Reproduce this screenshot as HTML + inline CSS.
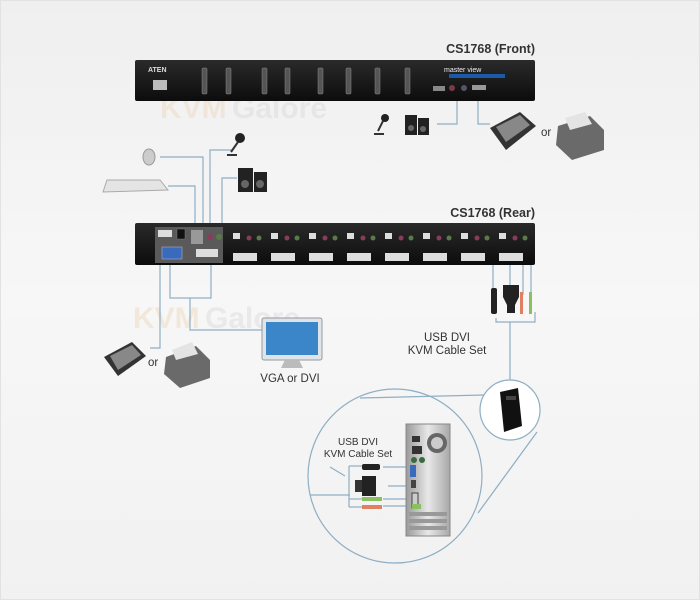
<!DOCTYPE html>
<html><head><meta charset="utf-8"><style>
html,body{margin:0;padding:0;background:#f3f3f3}
svg{display:block}
text{font-family:"Liberation Sans",sans-serif}
</style></head><body>
<svg width="700" height="600" viewBox="0 0 700 600" xmlns="http://www.w3.org/2000/svg">
<defs>
<linearGradient id="bg" x1="0" y1="0" x2="0" y2="1"><stop offset="0" stop-color="#efefef"/><stop offset="0.5" stop-color="#f7f7f7"/><stop offset="1" stop-color="#f1f1f1"/></linearGradient>
<linearGradient id="blk" x1="0" y1="0" x2="0" y2="1"><stop offset="0" stop-color="#2a2a2a"/><stop offset="1" stop-color="#0c0c0c"/></linearGradient>
<linearGradient id="tow" x1="0" y1="0" x2="1" y2="0"><stop offset="0" stop-color="#9a9a9a"/><stop offset="0.5" stop-color="#e8e8e8"/><stop offset="1" stop-color="#a8a8a8"/></linearGradient>
</defs>
<rect width="700" height="600" fill="url(#bg)"/>
<rect x="0.5" y="0.5" width="699" height="599" fill="none" stroke="#e2e2e2"/>

<!-- watermarks -->
<text x="160" y="118" font-size="30" font-weight="bold" fill="#eee2cf" opacity="0.7">KVM</text>
<text x="232" y="118" font-size="30" font-weight="bold" fill="#e2e2e2" opacity="0.7">Galore</text>
<text x="133" y="328" font-size="30" font-weight="bold" fill="#f0e3cf" opacity="0.7">KVM</text>
<text x="205" y="328" font-size="30" font-weight="bold" fill="#e4e4e4" opacity="0.7">Galore</text>

<!-- connector lines -->
<g stroke="#8eaec4" stroke-width="1.2" fill="none">
<path d="M457 100 V124 H437"/>
<path d="M478 100 V124 H490"/>
<path d="M160 157 H203 V223"/>
<path d="M168 186 H195 V223"/>
<path d="M232 150 H210 V223"/>
<path d="M237 178 H222 V223"/>
<path d="M170 265 V298 H211 V265"/>
<path d="M190 298 V330 H262"/>
<path d="M160 265 V348 H150"/>
<path d="M493 258 V300"/>
<path d="M510 260 V285"/>
<path d="M523 258 V295"/>
<path d="M531 258 V295"/>
<path d="M496 318 V322 H535 V312"/>
<path d="M510 322 V382"/>
<path d="M484 395 L360 398"/>
<path d="M537 432 L478 513"/>
<path d="M310 495 H350"/>
<path d="M349 466 V507"/>
<path d="M349 466 H362"/>
<path d="M349 499 H362"/>
<path d="M349 507 H362"/>
<path d="M383 467 H412"/>
<path d="M388 486 H412"/>
<path d="M383 499 H418"/>
<path d="M383 506 H421 V498"/>
<path d="M330 467 L345 476"/>
</g>
<circle cx="395" cy="476" r="87" fill="none" stroke="#8eaec4" stroke-width="1.2"/>
<circle cx="510" cy="410" r="30" fill="#ffffff" stroke="#8eaec4" stroke-width="1.2"/>

<!-- front unit -->
<text x="535" y="53" font-size="12.5" font-weight="bold" fill="#333" text-anchor="end">CS1768 (Front)</text>
<rect x="135" y="60" width="400" height="41" rx="2" fill="url(#blk)"/>
<text x="148" y="72" font-size="7" font-weight="bold" fill="#ddd">ATEN</text>
<rect x="153" y="80" width="14" height="10" fill="#bbb"/>
<g fill="#555" stroke="#888" stroke-width="0.5">
<rect x="202" y="68" width="5" height="26" rx="1"/><rect x="226" y="68" width="5" height="26" rx="1"/>
<rect x="262" y="68" width="5" height="26" rx="1"/><rect x="285" y="68" width="5" height="26" rx="1"/>
<rect x="318" y="68" width="5" height="26" rx="1"/><rect x="346" y="68" width="5" height="26" rx="1"/>
<rect x="375" y="68" width="5" height="26" rx="1"/><rect x="405" y="68" width="5" height="26" rx="1"/>
</g>
<text x="444" y="72" font-size="7" fill="#eee">master view</text>
<rect x="449" y="74" width="56" height="4" fill="#1a5aa8"/>
<rect x="433" y="86" width="12" height="5" fill="#888"/>
<circle cx="452" cy="88" r="3" fill="#7a3a4a"/><circle cx="464" cy="88" r="3" fill="#556"/>
<rect x="472" y="85" width="14" height="5" fill="#999"/>

<!-- rear unit -->
<text x="535" y="217" font-size="12.5" font-weight="bold" fill="#333" text-anchor="end">CS1768 (Rear)</text>
<rect x="135" y="223" width="400" height="42" rx="2" fill="url(#blk)"/>
<rect x="155" y="227" width="68" height="36" fill="#5a5a5a"/>
<rect x="158" y="230" width="14" height="7" fill="#ddd"/>
<rect x="177" y="229" width="8" height="10" fill="#111" stroke="#777" stroke-width="0.5"/>
<rect x="191" y="230" width="12" height="14" fill="#999"/>
<rect x="162" y="247" width="20" height="12" fill="#3a6abb" stroke="#aac" stroke-width="0.6"/>
<rect x="196" y="249" width="22" height="8" fill="#ddd"/>
<circle cx="210" cy="237" r="3" fill="#8a3a5a"/><circle cx="219" cy="237" r="3" fill="#5a7a4a"/>
<g fill="#ddd">
<rect x="233" y="253" width="24" height="8"/><rect x="271" y="253" width="24" height="8"/>
<rect x="309" y="253" width="24" height="8"/><rect x="347" y="253" width="24" height="8"/>
<rect x="385" y="253" width="24" height="8"/><rect x="423" y="253" width="24" height="8"/>
<rect x="461" y="253" width="24" height="8"/><rect x="499" y="253" width="24" height="8"/>
<rect x="233" y="233" width="7" height="6"/><rect x="271" y="233" width="7" height="6"/>
<rect x="309" y="233" width="7" height="6"/><rect x="347" y="233" width="7" height="6"/>
<rect x="385" y="233" width="7" height="6"/><rect x="423" y="233" width="7" height="6"/>
<rect x="461" y="233" width="7" height="6"/><rect x="499" y="233" width="7" height="6"/>
</g>
<g fill="#8a3a5a"><circle cx="249" cy="238" r="2.5"/><circle cx="287" cy="238" r="2.5"/><circle cx="325" cy="238" r="2.5"/><circle cx="363" cy="238" r="2.5"/><circle cx="401" cy="238" r="2.5"/><circle cx="439" cy="238" r="2.5"/><circle cx="477" cy="238" r="2.5"/><circle cx="515" cy="238" r="2.5"/></g>
<g fill="#5a7a4a"><circle cx="259" cy="238" r="2.5"/><circle cx="297" cy="238" r="2.5"/><circle cx="335" cy="238" r="2.5"/><circle cx="373" cy="238" r="2.5"/><circle cx="411" cy="238" r="2.5"/><circle cx="449" cy="238" r="2.5"/><circle cx="487" cy="238" r="2.5"/><circle cx="525" cy="238" r="2.5"/></g>

<!-- right cable set -->
<rect x="491" y="288" width="6" height="26" rx="2" fill="#222"/>
<path d="M503 285 h16 v12 l-4 8 v8 h-8 v-8 l-4 -8 z" fill="#222"/>
<rect x="520" y="292" width="3" height="22" fill="#e08060"/>
<rect x="529" y="292" width="3" height="22" fill="#8ac060"/>

<!-- labels -->
<text x="447" y="341" font-size="11.5" fill="#333" text-anchor="middle">USB DVI</text>
<text x="447" y="354" font-size="11.5" fill="#333" text-anchor="middle">KVM Cable Set</text>
<text x="290" y="382" font-size="11.5" fill="#333" text-anchor="middle">VGA or DVI</text>
<text x="541" y="136" font-size="11.5" fill="#333">or</text>
<text x="148" y="366" font-size="11.5" fill="#333">or</text>
<text x="358" y="445" font-size="10" fill="#333" text-anchor="middle">USB DVI</text>
<text x="358" y="457" font-size="10" fill="#333" text-anchor="middle">KVM Cable Set</text>

<!-- mouse -->
<ellipse cx="149" cy="157" rx="6" ry="8" fill="#ccc" stroke="#999"/>
<!-- keyboard -->
<path d="M107 180 L160 180 L168 190 L103 192 Z" fill="#e4e4e4" stroke="#aaa"/>
<!-- mic -->
<circle cx="240" cy="138" r="5" fill="#222"/><path d="M238 142 L231 152 M227 155 h10" stroke="#333" stroke-width="2"/>
<!-- speakers -->
<rect x="238" y="168" width="15" height="24" fill="#222"/><rect x="254" y="172" width="13" height="20" fill="#222"/>
<circle cx="245" cy="184" r="4" fill="#666"/><circle cx="260" cy="184" r="4" fill="#666"/>
<!-- front small mic/speakers -->
<circle cx="385" cy="118" r="4" fill="#222"/><path d="M383 121 L378 131 M374 134 h10" stroke="#333" stroke-width="2"/>
<rect x="405" y="115" width="12" height="20" fill="#222"/><rect x="418" y="118" width="11" height="17" fill="#222"/>
<circle cx="411" cy="128" r="3" fill="#666"/><circle cx="423" cy="129" r="3" fill="#666"/>
<!-- scanner front -->
<path d="M490 128 L520 112 L536 126 L506 150 Z" fill="#333"/><path d="M496 127 L520 115 L530 125 L506 142 Z" fill="#888"/>
<!-- printer front -->
<path d="M558 126 L590 116 L604 130 L604 150 L572 160 L556 145 Z" fill="#6a6a6a"/><path d="M565 118 L585 112 L592 124 L570 130Z" fill="#e4e4e4"/>
<!-- scanner left -->
<path d="M104 357 L132 342 L146 356 L118 376 Z" fill="#333"/><path d="M110 356 L132 345 L141 355 L118 370 Z" fill="#888"/>
<!-- printer left -->
<path d="M166 357 L196 346 L210 360 L210 378 L180 388 L164 374 Z" fill="#6a6a6a"/><path d="M172 350 L192 342 L198 354 L176 360Z" fill="#e4e4e4"/>
<!-- monitor -->
<rect x="262" y="318" width="60" height="42" rx="2" fill="#dde4ea" stroke="#999"/>
<rect x="266" y="322" width="52" height="33" fill="#3a86c8"/>
<path d="M285 360 h14 l4 8 h-22 z" fill="#bbb"/>
<!-- tower small -->
<path d="M500 392 L518 388 L522 426 L504 432 Z" fill="#111"/>
<rect x="506" y="396" width="10" height="4" fill="#444"/>
<!-- tower big -->
<rect x="406" y="424" width="44" height="112" fill="url(#tow)" stroke="#888"/>
<circle cx="437" cy="443" r="10" fill="#666"/><circle cx="437" cy="443" r="6" fill="#ccc"/>
<rect x="412" y="436" width="8" height="6" fill="#333"/><rect x="412" y="446" width="10" height="8" fill="#333"/>
<circle cx="414" cy="460" r="3" fill="#3a6a3a"/><circle cx="422" cy="460" r="3" fill="#3a6a3a"/>
<rect x="410" y="465" width="6" height="12" fill="#3a6abb"/>
<rect x="411" y="480" width="5" height="8" fill="#444"/>
<rect x="412" y="493" width="6" height="15" fill="#ccc" stroke="#444"/>
<rect x="412" y="504" width="9" height="5" fill="#8ac060"/>
<rect x="409" y="512" width="38" height="4" fill="#999"/><rect x="409" y="519" width="38" height="4" fill="#999"/><rect x="409" y="526" width="38" height="4" fill="#999"/>
<!-- inner cables -->
<rect x="362" y="464" width="18" height="6" rx="2" fill="#222"/>
<path d="M362 476 h14 v20 h-14 z" fill="#222"/><rect x="355" y="480" width="7" height="12" fill="#333"/>
<rect x="362" y="497" width="20" height="4" fill="#8ac060"/>
<rect x="362" y="505" width="20" height="4" fill="#e08060"/>
</svg>
</body></html>
